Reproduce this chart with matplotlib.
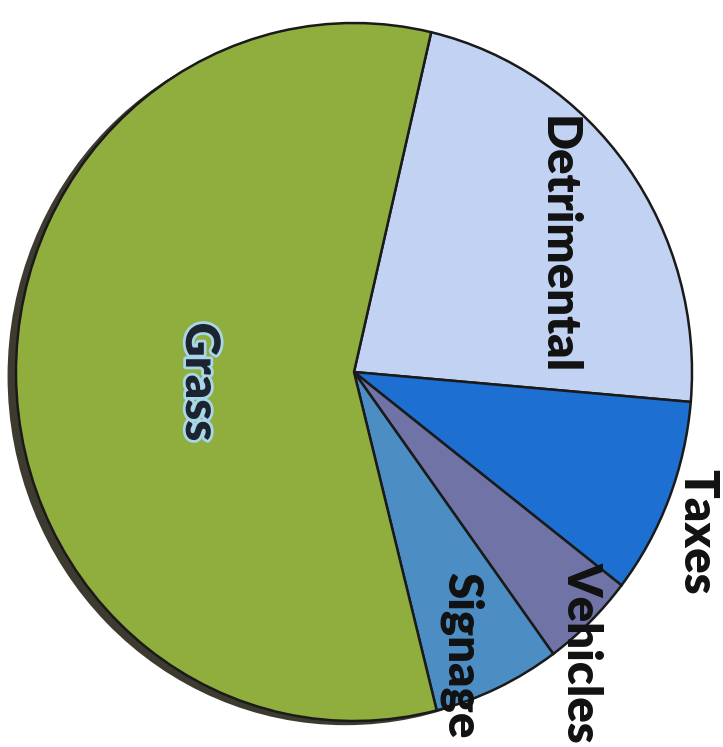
import matplotlib
matplotlib.use("Agg")
import matplotlib.pyplot as plt
from matplotlib.patches import Ellipse
import matplotlib.patheffects as pe

# Data (clockwise from the top-right boundary)
categories = ["Detrimental", "Taxes", "Vehicles", "Signage", "Grass"]
values = [22.7, 9.1, 4.5, 6.1, 57.6]
colors = ["#c2d2f2", "#1d6fd2", "#6f73a6", "#4c8ec4", "#8fae3e"]

W, H = 723, 747
fig = plt.figure(figsize=(W / 100, H / 100), dpi=100)
fig.patch.set_facecolor("white")

# pie geometry in pixels
cx, cy, rx, ry = 354, 372, 338, 349
ax = fig.add_axes([(cx - rx) / W, (H - cy - ry) / H, 2 * rx / W, 2 * ry / H])
ax.set_xlim(-1, 1)
ax.set_ylim(-1, 1)
ax.axis("off")

# dark 3D-ish rim on left
shadow = Ellipse((-0.025, -0.012), 2.0, 2.0, facecolor="#3d3b30", edgecolor="none",
                 zorder=0, clip_on=False)
ax.add_patch(shadow)

wedges, _ = ax.pie(values, colors=colors, startangle=76.8, counterclock=False,
                   radius=1.0, center=(0, 0),
                   wedgeprops=dict(edgecolor="#1a1a1a", linewidth=1.8, clip_on=False))
for w in wedges:
    w.set_zorder(1)
ax.set_aspect("auto")
ax.set_xlim(-1, 1)
ax.set_ylim(-1, 1)

font = dict(family=["Lato", "DejaVu Sans"], fontweight="heavy", rotation=-90,
            ha="center", va="center")
fs = 34

label_pos = {
    "Detrimental": (558, 245),
    "Taxes": (697, 532),
    "Vehicles": (582, 652),
    "Signage": (462, 655),
    "Grass": (200, 382),
}
for name in categories:
    x, y = label_pos[name]
    if name == "Grass":
        fig.text(x / W, 1 - y / H, name, fontsize=fs, color="#1c2430",
                 path_effects=[pe.withStroke(linewidth=4, foreground="#a9d6ea")], **font)
    else:
        fig.text(x / W, 1 - y / H, name, fontsize=fs, color="#111111", **font)

fig.savefig("out.png", dpi=100)
